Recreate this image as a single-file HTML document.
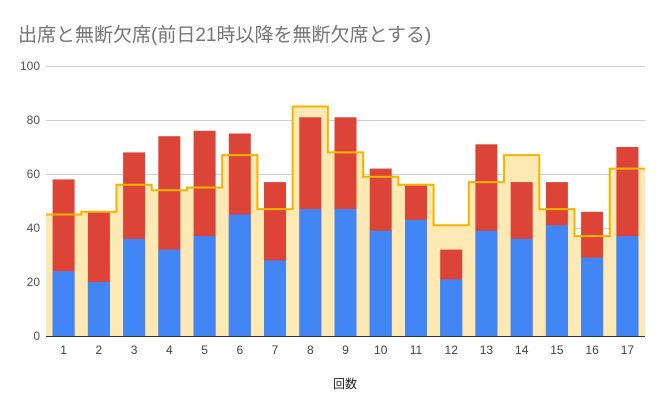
<!DOCTYPE html>
<html><head><meta charset="utf-8"><style>
html,body{margin:0;padding:0;background:#fff}
svg{display:block;font-family:"Liberation Sans","Noto Sans CJK JP",sans-serif}
</style></head><body>
<svg width="667" height="412" xmlns="http://www.w3.org/2000/svg">
<rect width="667" height="412" fill="#fff"/>
<text x="18" y="41" font-size="19" fill="#757575">出席と無断欠席(前日21時以降を無断欠席とする)</text>
<g stroke="#d0d0d0" stroke-width="1">
<line x1="46" x2="645" y1="66.5" y2="66.5"/>
<line x1="46" x2="645" y1="120.5" y2="120.5"/>
<line x1="46" x2="645" y1="174.5" y2="174.5"/>
<line x1="46" x2="645" y1="228.5" y2="228.5"/>
<line x1="46" x2="645" y1="282.5" y2="282.5"/>
</g>
<g font-size="12" fill="#555" text-anchor="end">
<text x="40" y="70">100</text><text x="40" y="124">80</text><text x="40" y="178">60</text><text x="40" y="232">40</text><text x="40" y="286">20</text><text x="40" y="340">0</text>
</g>
<path fill="#fde9b4" d="M46 336 L46 214.5 L81.24 214.5 L81.24 211.8 L116.47 211.8 L116.47 184.8 L151.71 184.8 L151.71 190.2 L186.94 190.2 L186.94 187.5 L222.18 187.5 L222.18 155.1 L257.41 155.1 L257.41 209.1 L292.65 209.1 L292.65 106.5 L327.88 106.5 L327.88 152.4 L363.12 152.4 L363.12 176.7 L398.35 176.7 L398.35 184.8 L433.59 184.8 L433.59 225.3 L468.82 225.3 L468.82 182.1 L504.06 182.1 L504.06 155.1 L539.29 155.1 L539.29 209.1 L574.53 209.1 L574.53 236.1 L609.76 236.1 L609.76 168.6 L645 168.6 L645 336 Z"/>
<g fill="#db4437">
<rect x="52.6" y="179.4" width="22" height="156.6"/>
<rect x="87.9" y="211.8" width="22" height="124.2"/>
<rect x="123.1" y="152.4" width="22" height="183.6"/>
<rect x="158.3" y="136.2" width="22" height="199.8"/>
<rect x="193.6" y="130.8" width="22" height="205.2"/>
<rect x="228.8" y="133.5" width="22" height="202.5"/>
<rect x="264.0" y="182.1" width="22" height="153.9"/>
<rect x="299.3" y="117.3" width="22" height="218.7"/>
<rect x="334.5" y="117.3" width="22" height="218.7"/>
<rect x="369.7" y="168.6" width="22" height="167.4"/>
<rect x="405.0" y="184.8" width="22" height="151.2"/>
<rect x="440.2" y="249.6" width="22" height="86.4"/>
<rect x="475.4" y="144.3" width="22" height="191.7"/>
<rect x="510.7" y="182.1" width="22" height="153.9"/>
<rect x="545.9" y="182.1" width="22" height="153.9"/>
<rect x="581.1" y="211.8" width="22" height="124.2"/>
<rect x="616.4" y="147" width="22" height="189"/>
</g>
<g fill="#4285f4">
<rect x="52.6" y="271.2" width="22" height="64.8"/>
<rect x="87.9" y="282" width="22" height="54"/>
<rect x="123.1" y="238.8" width="22" height="97.2"/>
<rect x="158.3" y="249.6" width="22" height="86.4"/>
<rect x="193.6" y="236.1" width="22" height="99.9"/>
<rect x="228.8" y="214.5" width="22" height="121.5"/>
<rect x="264.0" y="260.4" width="22" height="75.6"/>
<rect x="299.3" y="209.1" width="22" height="126.9"/>
<rect x="334.5" y="209.1" width="22" height="126.9"/>
<rect x="369.7" y="230.7" width="22" height="105.3"/>
<rect x="405.0" y="219.9" width="22" height="116.1"/>
<rect x="440.2" y="279.3" width="22" height="56.7"/>
<rect x="475.4" y="230.7" width="22" height="105.3"/>
<rect x="510.7" y="238.8" width="22" height="97.2"/>
<rect x="545.9" y="225.3" width="22" height="110.7"/>
<rect x="581.1" y="257.7" width="22" height="78.3"/>
<rect x="616.4" y="236.1" width="22" height="99.9"/>
</g>
<path fill="none" stroke="#f4b400" stroke-width="2" d="M46 214.5 L81.24 214.5 L81.24 211.8 L116.47 211.8 L116.47 184.8 L151.71 184.8 L151.71 190.2 L186.94 190.2 L186.94 187.5 L222.18 187.5 L222.18 155.1 L257.41 155.1 L257.41 209.1 L292.65 209.1 L292.65 106.5 L327.88 106.5 L327.88 152.4 L363.12 152.4 L363.12 176.7 L398.35 176.7 L398.35 184.8 L433.59 184.8 L433.59 225.3 L468.82 225.3 L468.82 182.1 L504.06 182.1 L504.06 155.1 L539.29 155.1 L539.29 209.1 L574.53 209.1 L574.53 236.1 L609.76 236.1 L609.76 168.6 L645 168.6"/>
<line x1="46" x2="645" y1="336.5" y2="336.5" stroke="#333" stroke-width="1"/>
<g font-size="12" fill="#444" text-anchor="middle">
<text x="63.6" y="354">1</text><text x="98.9" y="354">2</text><text x="134.1" y="354">3</text><text x="169.3" y="354">4</text><text x="204.6" y="354">5</text><text x="239.8" y="354">6</text><text x="275.0" y="354">7</text><text x="310.3" y="354">8</text><text x="345.5" y="354">9</text><text x="380.7" y="354">10</text><text x="416.0" y="354">11</text><text x="451.2" y="354">12</text><text x="486.4" y="354">13</text><text x="521.7" y="354">14</text><text x="556.9" y="354">15</text><text x="592.1" y="354">16</text><text x="627.4" y="354">17</text>
</g>
<text x="345" y="388" font-size="12" fill="#222" text-anchor="middle">回数</text>
</svg>
</body></html>
